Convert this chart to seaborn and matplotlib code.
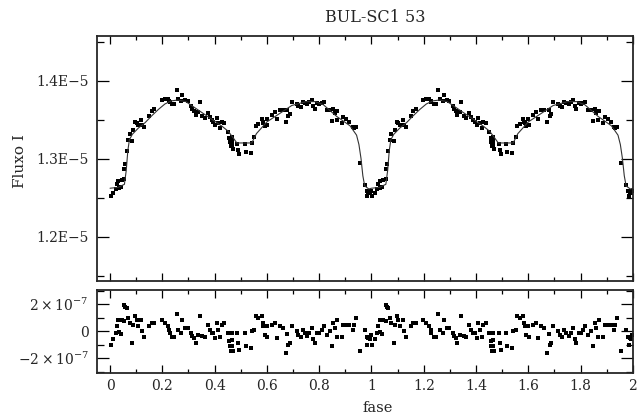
import numpy as np
import pandas as pd
import seaborn as sns
import matplotlib
matplotlib.use('Agg')
import matplotlib.pyplot as plt
from matplotlib.ticker import MultipleLocator, FixedLocator, FixedFormatter

# Curva de luz (um ciclo, fase 0-1), fluxo em unidades de 1E-5
fase_obs = [0.003, 0.013, 0.022, 0.026, 0.032, 0.034, 0.041, 0.045, 0.055, 0.058,
            0.064, 0.055, 0.070, 0.076, 0.085, 0.089, 0.096, 0.102, 0.108, 0.119,
            0.124, 0.131, 0.150, 0.159, 0.169, 0.198, 0.210, 0.221, 0.226, 0.229,
            0.238, 0.246, 0.255, 0.261, 0.272, 0.276, 0.287, 0.297, 0.310, 0.315,
            0.322, 0.328, 0.338, 0.344, 0.353, 0.363, 0.374, 0.382, 0.389, 0.395,
            0.402, 0.408, 0.414, 0.421, 0.427, 0.437, 0.450, 0.456, 0.459, 0.462,
            0.465, 0.465, 0.466, 0.469, 0.487, 0.491, 0.494, 0.516, 0.520, 0.538,
            0.542, 0.551, 0.558, 0.567, 0.580, 0.584, 0.586, 0.593, 0.599, 0.602,
            0.618, 0.631, 0.637, 0.650, 0.660, 0.673, 0.678, 0.682, 0.688, 0.695,
            0.714, 0.720, 0.729, 0.737, 0.746, 0.755, 0.762, 0.771, 0.777, 0.784,
            0.793, 0.800, 0.810, 0.818, 0.829, 0.841, 0.848, 0.854, 0.860, 0.867,
            0.869, 0.886, 0.892, 0.903, 0.915, 0.928, 0.933, 0.941, 0.956, 0.975,
            0.982, 0.984, 0.988, 0.993, 0.997]

fluxo_obs = [1.2520, 1.2565, 1.2615, 1.2670, 1.2710, 1.2620, 1.2630, 1.2730, 1.2865, 1.2930,
             1.3100, 1.2740, 1.3240, 1.3310, 1.3226, 1.3370, 1.3470, 1.3450, 1.3430, 1.3500,
             1.3430, 1.3406, 1.3550, 1.3610, 1.3640, 1.3746, 1.3764, 1.3758, 1.3736, 1.3720,
             1.3700, 1.3705, 1.3874, 1.3760, 1.3734, 1.3820, 1.3752, 1.3734, 1.3674, 1.3638,
             1.3607, 1.3560, 1.3593, 1.3726, 1.3551, 1.3523, 1.3587, 1.3530, 1.3495, 1.3475,
             1.3425, 1.3520, 1.3457, 1.3390, 1.3464, 1.3454, 1.3345, 1.3263, 1.3210, 1.3156,
             1.3280, 1.3226, 1.3180, 1.3125, 1.3185, 1.3116, 1.3062, 1.3185, 1.3090, 1.3074,
             1.3200, 1.3270, 1.3417, 1.3442, 1.3508, 1.3474, 1.3453, 1.3417, 1.3506, 1.3434,
             1.3557, 1.3602, 1.3501, 1.3620, 1.3622, 1.3471, 1.3622, 1.3551, 1.3574, 1.3720,
             1.3697, 1.3676, 1.3667, 1.3728, 1.3711, 1.3695, 1.3720, 1.3750, 1.3670, 1.3640,
             1.3710, 1.3695, 1.3708, 1.3724, 1.3625, 1.3617, 1.3483, 1.3638, 1.3581, 1.3500,
             1.3615, 1.3455, 1.3528, 1.3503, 1.3474, 1.3406, 1.3395, 1.3406, 1.2940, 1.2658,
             1.2590, 1.2525, 1.2565, 1.2555, 1.2590]

# residuos (observado - modelo), em unidades de 1E-7
residuo_obs = [-1.00, -0.60, -0.15, 0.40, 0.80, -0.07, -0.20, 0.80, 1.95, 1.80,
               1.70, 0.74, 0.96, 0.60, -0.84, 0.47, 1.16, 0.84, 0.40, 0.80,
               0.00, -0.44, 0.35, 0.64, 0.60, 0.80, 0.64, 0.40, 0.10, -0.10,
               -0.40, -0.40, 1.26, 0.10, -0.10, 0.80, 0.20, 0.20, -0.10, -0.35,
               -0.50, -0.84, -0.27, 1.16, -0.35, -0.40, 0.47, 0.10, -0.10, -0.15,
               -0.50, 0.60, 0.10, -0.40, 0.47, 0.64, -0.10, -0.70, -1.10, -1.50,
               -0.10, -0.64, -1.10, -1.50, -0.15, -0.84, -1.38, -0.15, -1.10, -1.26,
               0.00, 0.10, 1.10, 0.96, 1.13, 0.64, 0.35, -0.27, 0.40, -0.40,
               0.47, 0.64, -0.50, 0.40, 0.20, -1.60, -0.20, -1.00, -0.90, 0.40,
               0.00, -0.27, -0.44, 0.10, -0.15, -0.35, -0.10, 0.20, -0.60, -0.90,
               -0.10, -0.15, 0.10, 0.40, -0.27, 0.00, -1.13, 0.60, 0.20, -0.40,
               0.80, -0.40, 0.47, 0.47, 0.47, 0.10, 0.47, 0.96, -1.50, 0.10,
               -0.40, -1.00, -0.50, -0.60, -0.30]

# modelo ajustado (um ciclo)
fase_mod = [0.0, 0.03, 0.055, 0.062, 0.068, 0.074, 0.085, 0.108, 0.134, 0.16,
            0.185, 0.21, 0.235, 0.26, 0.29, 0.325, 0.36, 0.40, 0.43, 0.452,
            0.47, 0.485, 0.542, 0.56, 0.60, 0.65, 0.695, 0.75, 0.785, 0.816,
            0.867, 0.918, 0.943, 0.952, 0.96, 0.967, 0.974, 0.99, 1.0]
fluxo_mod = [1.262, 1.263, 1.267, 1.285, 1.310, 1.324, 1.331, 1.339, 1.346, 1.355,
             1.363, 1.370, 1.374, 1.375, 1.373, 1.365, 1.357, 1.348, 1.341, 1.335,
             1.327, 1.320, 1.320, 1.332, 1.347, 1.358, 1.368, 1.373, 1.373, 1.369,
             1.354, 1.342, 1.330, 1.318, 1.300, 1.278, 1.265, 1.261, 1.262]

ciclos = [0, 1]

# Montando os DataFrames (dois ciclos de fase)
obs = pd.DataFrame({'fase': np.concatenate([np.array(fase_obs) + c for c in ciclos]),
                    'fluxo': np.tile(fluxo_obs, len(ciclos)) * 1e-5,
                    'residuo': np.tile(residuo_obs, len(ciclos)) * 1e-7})
mod = pd.DataFrame({'fase': np.concatenate([np.array(fase_mod) + c for c in ciclos]),
                    'fluxo': np.tile(fluxo_mod, len(ciclos)) * 1e-5})

sns.set_style('ticks')
plt.rcParams['font.family'] = ['DejaVu Serif']
plt.rcParams['mathtext.fontset'] = 'dejavuserif'

fig = plt.figure(figsize=(6.38, 4.17), dpi=100)
ax1 = fig.add_axes([0.152, 0.326, 0.840, 0.5875])
ax2 = fig.add_axes([0.152, 0.1055, 0.840, 0.199])

sns.lineplot(data=mod, x='fase', y='fluxo', color='#333333', lw=0.8,
             estimator=None, sort=False, ax=ax1)
sns.scatterplot(data=obs, x='fase', y='fluxo', marker='s', s=6, color='black',
                linewidth=0, ax=ax1)
sns.scatterplot(data=obs, x='fase', y='residuo', marker='s', s=6, color='black',
                linewidth=0, ax=ax2)

ax1.set_xlim(-0.05, 2.0)
ax2.set_xlim(-0.05, 2.0)
ax1.set_ylim(1.143e-5, 1.457e-5)
ax2.set_ylim(-3.1e-7, 3.05e-7)

for ax in (ax1, ax2):
    ax.xaxis.set_major_locator(MultipleLocator(0.2))
    ax.xaxis.set_minor_locator(MultipleLocator(0.1))
    ax.tick_params(axis='both', which='both', direction='in', top=True, right=True,
                   width=0.9, color='black', labelsize=10)
    ax.tick_params(axis='x', which='major', length=5.5, pad=4)
    ax.tick_params(axis='x', which='minor', length=3)
    ax.tick_params(axis='y', which='major', length=8.5, pad=6)
    ax.tick_params(axis='y', which='minor', length=5)
    for s in ax.spines.values():
        s.set_linewidth(1.3)
    ax.set_xlabel('')
    ax.set_ylabel('')

ax1.yaxis.set_major_locator(FixedLocator([1.2e-5, 1.3e-5, 1.4e-5]))
ax1.yaxis.set_major_formatter(FixedFormatter(['1.2E\u22125', '1.3E\u22125', '1.4E\u22125']))
ax1.yaxis.set_minor_locator(MultipleLocator(0.05e-5))
ax1.tick_params(axis='x', labelbottom=False)

ax2.yaxis.set_major_locator(FixedLocator([-2e-7, 0, 2e-7]))
ax2.yaxis.set_major_formatter(FixedFormatter([r'$-2\times10^{-7}$', '0', r'$2\times10^{-7}$']))
ax2.yaxis.set_minor_locator(MultipleLocator(1e-7))
ax2.xaxis.set_major_formatter(FixedFormatter(['', '0', '0.2', '0.4', '0.6', '0.8', '1',
                                              '1.2', '1.4', '1.6', '1.8', '2']))
ax2.xaxis.set_major_locator(FixedLocator([-0.2, 0, 0.2, 0.4, 0.6, 0.8, 1.0, 1.2,
                                          1.4, 1.6, 1.8, 2.0]))

fig.text(375 / 638, 1 - 17 / 417, 'BUL-SC1 53', ha='center', va='center', fontsize=11.5)
fig.text(19.5 / 638, 1 - 161 / 417, 'Fluxo I', rotation=90, ha='center', va='center',
         fontsize=11)
fig.text(378 / 638, 1 - 408 / 417, 'fase', ha='center', va='center', fontsize=10.5)

fig.savefig('out.png', dpi=100)
